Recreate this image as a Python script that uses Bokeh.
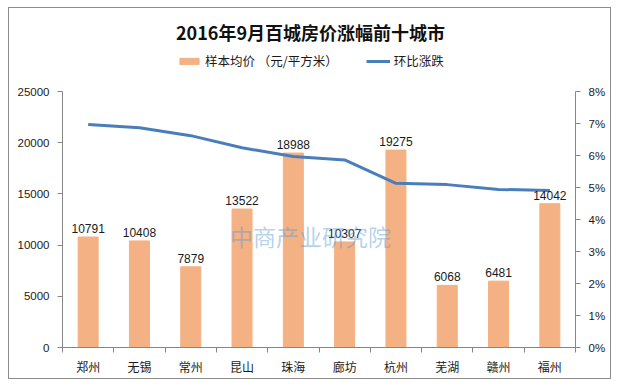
from bokeh.plotting import figure
from bokeh.models import (ColumnDataSource, Range1d, LinearAxis, FixedTicker,
                          NumeralTickFormatter, Legend, LegendItem, Label)
from bokeh.core.properties import value
from bokeh.embed import file_html
from bokeh.resources import INLINE

cities = ["郑州", "无锡", "常州", "昆山", "珠海", "廊坊", "杭州", "芜湖", "赣州", "福州"]
avg_price = [10791, 10408, 7879, 13522, 18988, 10307, 19275, 6068, 6481, 14042]
mom_change = [0.0697, 0.0687, 0.0662, 0.0624, 0.0597, 0.0586, 0.0513, 0.0509, 0.0494, 0.0491]
left_ticks = [0, 5000, 10000, 15000, 20000, 25000]
right_ticks = [0, 0.01, 0.02, 0.03, 0.04, 0.05, 0.06, 0.07, 0.08]
title_text = "2016年9月百城房价涨幅前十城市"
legend_labels = ["样本均价 （元/平方米）", "环比涨跌"]
watermark = "中商产业研究院"

# layout (pixels); figure host is offset by a CSS margin
OFF_X, OFF_Y = 8, 7
W, H = 603, 372
ML, MR, MB = 53, 37, 33
FRAME_H = H - MB           # frame runs to top of figure
AXIS_PX = 256              # pixel height of 0..25000
LMAX, RMAX = 25000, 0.08
y_top = LMAX * FRAME_H / AXIS_PX
r_top = RMAX * FRAME_H / AXIS_PX
frame_left_page = OFF_X + 1 + ML
frame_top_page = OFF_Y + 1
frame_bottom_page = frame_top_page + FRAME_H

xs = list(range(len(cities)))
src = ColumnDataSource(dict(x=xs, price=avg_price, chg=mom_change,
                            lbl=[str(v) for v in avg_price]))

CJK = "Noto Sans CJK SC"
NUM = "Liberation Sans"
AX = "#868686"
TXT = "#1a1a1a"

p = figure(width=W, height=H, output_backend="svg", toolbar_location=None,
           x_range=Range1d(-0.5, len(cities) - 0.5), y_range=Range1d(0, y_top),
           min_border_left=ML, min_border_right=MR, min_border_top=0,
           min_border_bottom=MB)
p.styles = {"border": "1px solid #8c8c8c", "margin": f"{OFF_Y}px 0 0 {OFF_X}px"}
p.outline_line_color = None
p.xgrid.grid_line_color = None
p.ygrid.grid_line_color = None

p.extra_y_ranges = {"pct": Range1d(0, r_top)}

bars = p.vbar(x="x", top="price", width=0.39, source=src, color="#F4B183")
line = p.line(x="x", y="chg", source=src, y_range_name="pct",
              line_color="#4A7EBB", line_width=3)
p.text(x="x", y="price", text="lbl", source=src, text_align="center",
       text_baseline="bottom", y_offset=-4, text_font=value(NUM),
       text_font_size="12px", text_color=TXT)

px_per_unit = (W - ML - MR) / len(cities)
def page_to_x(px):
    return -0.5 + (px - frame_left_page) / px_per_unit
def page_to_y(py):
    return (frame_bottom_page - py) * LMAX / AXIS_PX

# faint watermark
p.add_layout(Label(x=page_to_x(310), y=page_to_y(235), text=watermark,
                   text_align="center", text_baseline="middle", text_font=CJK,
                   text_font_size="23px", text_color="#5B9BD5", text_alpha=0.45))

# title drawn inside the (extended) frame
p.add_layout(Label(x=page_to_x(310), y=page_to_y(31), text=title_text,
                   text_align="center", text_baseline="middle", text_font=CJK,
                   text_font_size="18px", text_font_style="bold",
                   text_color="#111111"))

# x axis
xa = p.xaxis[0]
xa.ticker = FixedTicker(ticks=xs, minor_ticks=[i - 0.5 for i in range(len(cities) + 1)])
xa.major_label_overrides = {i: c for i, c in enumerate(cities)}
xa.major_tick_out = 0
xa.major_tick_in = 0
xa.minor_tick_out = 5
xa.minor_tick_in = 0
xa.minor_tick_line_color = AX
xa.axis_line_color = AX
xa.major_label_text_font = CJK
xa.major_label_text_font_size = "12px"
xa.major_label_text_color = TXT
xa.major_label_standoff = 5

# left axis
ya = p.yaxis[0]
ya.ticker = FixedTicker(ticks=left_ticks)
ya.bounds = (0, LMAX)
ya.major_tick_out = 5
ya.major_tick_in = 0
ya.minor_tick_line_color = None
ya.axis_line_color = AX
ya.major_tick_line_color = AX
ya.major_label_text_font = NUM
ya.major_label_text_font_size = "11.5px"
ya.major_label_text_color = TXT
ya.major_label_standoff = 8

# right axis
ra = LinearAxis(y_range_name="pct", ticker=FixedTicker(ticks=right_ticks),
                formatter=NumeralTickFormatter(format="0%"), bounds=(0, RMAX))
ra.major_tick_out = 5
ra.major_tick_in = 0
ra.minor_tick_line_color = None
ra.axis_line_color = AX
ra.major_tick_line_color = AX
ra.major_label_text_font = NUM
ra.major_label_text_font_size = "11.5px"
ra.major_label_text_color = TXT
ra.major_label_standoff = 8
p.add_layout(ra, "right")

legend = Legend(items=[LegendItem(label=legend_labels[0], renderers=[bars]),
                       LegendItem(label=legend_labels[1], renderers=[line])],
                orientation="horizontal",
                location=(177 - frame_left_page, frame_bottom_page - 63 - 7),
                label_text_font=CJK, label_text_font_size="12.5px",
                label_text_color=TXT, glyph_width=24, glyph_height=8,
                spacing=28, border_line_color=None, background_fill_alpha=0,
                label_standoff=4, padding=0, margin=0, label_height=14)
p.add_layout(legend, "center")

open("out.html", "w").write(file_html(p, INLINE))
